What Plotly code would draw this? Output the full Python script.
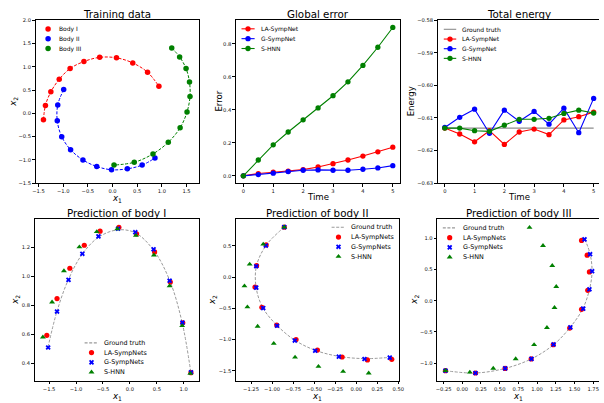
import plotly.graph_objects as go

W, H = 604, 403
FONT = "DejaVu Sans"
RED, BLUE, GREEN = "#ff0000", "#0000ff", "#008000"
GT_GRAY = "#9a9a9a"
GT_LINE = "#8c8c8c"

# ---------------- data ----------------
# Training data (three bodies)
body1_x = [-1.40, -1.36, -1.25, -1.08, -0.86, -0.58, -0.26, 0.08, 0.41, 0.71, 0.94]
body1_y = [-0.14, 0.17, 0.46, 0.73, 0.96, 1.11, 1.20, 1.19, 1.08, 0.88, 0.58]
body2_x = [-0.99, -1.11, -1.12, -1.03, -0.85, -0.60, -0.32, -0.02, 0.30, 0.60, 0.86]
body2_y = [0.51, 0.18, -0.16, -0.50, -0.78, -1.00, -1.14, -1.21, -1.19, -1.11, -0.96]
body3_x = [1.20, 1.36, 1.49, 1.56, 1.57, 1.51, 1.37, 1.13, 0.82, 0.44, 0.03]
body3_y = [1.40, 1.21, 0.96, 0.67, 0.36, 0.03, -0.31, -0.62, -0.87, -1.05, -1.11]

# Global error / total energy vs time
time = [0, 0.5, 1, 1.5, 2, 2.5, 3, 3.5, 4, 4.5, 5]
err_la = [0, 0.014, 0.022, 0.028, 0.038, 0.054, 0.074, 0.096, 0.120, 0.146, 0.174]
err_g = [0, 0.008, 0.016, 0.026, 0.034, 0.036, 0.034, 0.034, 0.040, 0.048, 0.062]
err_s = [0, 0.096, 0.188, 0.266, 0.340, 0.412, 0.486, 0.570, 0.670, 0.780, 0.900]

en_gt = [-0.6131, -0.6131, -0.6131, -0.6131, -0.6131, -0.6131, -0.6131, -0.6131, -0.6131, -0.6131, -0.6131]
en_la = [-0.6131, -0.6149, -0.6173, -0.6139, -0.6181, -0.6143, -0.6134, -0.6151, -0.6106, -0.6096, -0.6082]
en_g = [-0.6129, -0.6098, -0.6073, -0.6147, -0.6076, -0.6110, -0.6080, -0.6119, -0.6070, -0.6145, -0.6040]
en_s = [-0.6131, -0.6131, -0.6139, -0.6141, -0.6122, -0.6104, -0.6104, -0.6101, -0.6086, -0.6076, -0.6085]

# Prediction of body I
gt1_x = [-1.52, -1.36, -1.15, -0.89, -0.58, -0.23, 0.10, 0.44, 0.74, 0.97, 1.13]
gt1_y = [0.51, 0.75, 0.97, 1.15, 1.27, 1.32, 1.30, 1.18, 0.97, 0.68, 0.34]
la1_x = [-1.543, -1.353, -1.115, -0.847, -0.554, -0.204, 0.124, 0.459, 0.751, 0.982, 1.134]
la1_y = [0.592, 0.846, 1.055, 1.214, 1.311, 1.338, 1.293, 1.168, 0.960, 0.678, 0.334]
g1_x = [-1.518, -1.353, -1.140, -0.883, -0.584, -0.220, 0.100, 0.440, 0.738, 0.976, 1.134]
g1_y = [0.508, 0.756, 0.975, 1.155, 1.275, 1.328, 1.304, 1.186, 0.969, 0.680, 0.337]
s1_x = [-1.616, -1.445, -1.225, -0.938, -0.615, -0.234, 0.112, 0.446, 0.738, 0.970, 1.122]
s1_y = [0.579, 0.821, 1.037, 1.202, 1.307, 1.327, 1.281, 1.146, 0.933, 0.658, 0.328]

# Prediction of body II
gt2_x = [-0.855, -1.070, -1.185, -1.190, -1.110, -0.940, -0.730, -0.480, -0.200, 0.100, 0.400]
gt2_y = [0.800, 0.510, 0.180, -0.160, -0.490, -0.775, -1.010, -1.175, -1.270, -1.305, -1.285]
la2_x = [-0.855, -1.070, -1.184, -1.203, -1.121, -0.945, -0.715, -0.461, -0.168, 0.133, 0.422]
la2_y = [0.800, 0.516, 0.184, -0.158, -0.484, -0.768, -1.000, -1.168, -1.279, -1.326, -1.316]
g2_x = [-0.855, -1.074, -1.188, -1.188, -1.105, -0.941, -0.730, -0.488, -0.207, 0.098, 0.398]
g2_y = [0.800, 0.505, 0.174, -0.168, -0.495, -0.779, -1.016, -1.179, -1.274, -1.311, -1.289]
s2_x = [-0.855, -1.105, -1.266, -1.328, -1.293, -1.172, -0.980, -0.727, -0.449, -0.156, 0.148]
s2_y = [0.800, 0.526, 0.205, -0.142, -0.479, -0.789, -1.063, -1.284, -1.432, -1.511, -1.537]

# Prediction of body III
gt3_x = [-0.225, 0.176, 0.573, 0.923, 1.220, 1.440, 1.610, 1.700, 1.735, 1.710, 1.640]
gt3_y = [-1.121, -1.158, -1.084, -0.932, -0.705, -0.430, -0.130, 0.180, 0.470, 0.745, 0.985]
la3_x = [-0.225, 0.176, 0.573, 0.921, 1.216, 1.436, 1.595, 1.678, 1.700, 1.670, 1.595]
la3_y = [-1.121, -1.158, -1.084, -0.932, -0.705, -0.437, -0.137, 0.168, 0.463, 0.732, 0.968]
g3_x = [-0.225, 0.176, 0.573, 0.925, 1.220, 1.445, 1.617, 1.700, 1.736, 1.709, 1.634]
g3_y = [-1.121, -1.158, -1.084, -0.932, -0.700, -0.426, -0.126, 0.184, 0.474, 0.747, 0.984]
s3_x = [-0.225, 0.101, 0.414, 0.714, 0.960, 1.132, 1.233, 1.256, 1.203, 1.079, 0.899]
s3_y = [-1.121, -1.147, -1.084, -0.932, -0.705, -0.432, -0.111, 0.226, 0.563, 0.884, 1.174]

# tick values
ticks_tl_x = [-1.5, -1.0, -0.5, 0.0, 0.5, 1.0, 1.5]
ticks_tl_y = [-1.5, -1.0, -0.5, 0.0, 0.5, 1.0, 1.5, 2.0]
ticks_time = [0, 1, 2, 3, 4, 5]
ticks_err = [0.0, 0.2, 0.4, 0.6, 0.8]
ticks_en = [-0.63, -0.62, -0.61, -0.60, -0.59, -0.58]
ticks_b1_x = [-1.5, -1.0, -0.5, 0.0, 0.5, 1.0]
ticks_b1_y = [0.4, 0.6, 0.8, 1.0, 1.2]
ticks_b2_x = [-1.25, -1.0, -0.75, -0.5, -0.25, 0.0, 0.25, 0.5]
ticks_b2_y = [-1.5, -1.0, -0.5, 0.0, 0.5]
ticks_b3_x = [-0.25, 0.0, 0.25, 0.5, 0.75, 1.0, 1.25, 1.5, 1.75]
ticks_b3_y = [-1.0, -0.5, 0.0, 0.5, 1.0]

# ---------------- layout helpers ----------------
fig = go.Figure()


def dx(a, b):
    return [a / W, b / W]


def dy(top, bottom):
    return [1 - bottom / H, 1 - top / H]


TICKFONT = dict(family=FONT, size=5.2, color="#111")
specs = [
    # xdomain px, ydomain px, xrange, yrange, xticks, yticks, xfmt, yfmt, right spine
    ((33, 198.3), (17.3, 183), (-1.56, 1.746), (-1.5, 2.0), ticks_tl_x, ticks_tl_y, ".1f", ".1f", True),
    ((236, 402.6), (17.3, 183), (-0.25, 5.25), (-0.045, 0.945), ticks_time, ticks_err, "d", ".1f", True),
    ((440.5, 604), (17.3, 183), (-0.24, 5.18), (-0.63, -0.58), ticks_time, ticks_en, "d", ".2f", False),
    ((32, 199), (219.3, 383.5), (-1.77, 1.29), (0.278, 1.395), ticks_b1_x, ticks_b1_y, ".1f", ".1f", True),
    ((236, 401.5), (219.3, 383.5), (-1.43, 0.51), (-1.66, 0.93), ticks_b2_x, ticks_b2_y, ".2f", ".1f", True),
    ((440, 604), (219.3, 383.5), (-0.336, 1.828), (-1.283, 1.311), ticks_b3_x, ticks_b3_y, ".2f", ".1f", False),
]

common = dict(showline=True, linecolor="black", linewidth=1, ticks="outside", ticklen=2.5,
              tickwidth=0.8, tickcolor="black", showgrid=False, zeroline=False,
              tickfont=TICKFONT, fixedrange=True)
lay = {}
for i, (xd, yd, xr, yr, xt, yt, xf, yf, rs) in enumerate(specs, start=1):
    s = "" if i == 1 else str(i)
    lay["xaxis" + s] = dict(domain=dx(*xd), range=list(xr), anchor="y" + s, tickvals=xt,
                            tickformat=xf, mirror=True, **common)
    lay["yaxis" + s] = dict(domain=dy(*yd), range=list(yr), anchor="x" + s, tickvals=yt,
                            tickformat=yf, mirror=rs, **common)
# overlay pixel axis for legend keys and labels
lay["xaxis7"] = dict(domain=[0, 1], range=[0, W], anchor="y7", visible=False, fixedrange=True)
lay["yaxis7"] = dict(domain=[0, 1], range=[H, 0], anchor="x7", visible=False, fixedrange=True)
fig.update_layout(**lay)


def sc(x, y, ax, **kw):
    s = "" if ax == 1 else str(ax)
    fig.add_trace(go.Scatter(x=x, y=y, xaxis="x" + s, yaxis="y" + s, showlegend=False,
                             hoverinfo="skip", cliponaxis=False, **kw))


# ---------------- panel 1: training data ----------------
for bx, by, c in [(body1_x, body1_y, RED), (body2_x, body2_y, BLUE), (body3_x, body3_y, GREEN)]:
    sc(bx, by, 1, mode="lines", line=dict(color=c, width=1, dash="3px,1.6px", shape="spline"))
    sc(bx, by, 1, mode="markers", marker=dict(color=c, size=5.5))

# ---------------- panel 2: global error ----------------
for ys, c in [(err_la, RED), (err_g, BLUE), (err_s, GREEN)]:
    sc(time, ys, 2, mode="lines+markers", line=dict(color=c, width=1.1), marker=dict(color=c, size=5.3))

# ---------------- panel 3: total energy ----------------
sc(time, en_gt, 3, mode="lines", line=dict(color=GT_LINE, width=1.1))
for ys, c in [(en_la, RED), (en_g, BLUE), (en_s, GREEN)]:
    sc(time, ys, 3, mode="lines+markers", line=dict(color=c, width=1.1), marker=dict(color=c, size=5.3))

# ---------------- panels 4-6: predictions ----------------
preds = [
    (4, gt1_x, gt1_y, la1_x, la1_y, g1_x, g1_y, s1_x, s1_y),
    (5, gt2_x, gt2_y, la2_x, la2_y, g2_x, g2_y, s2_x, s2_y),
    (6, gt3_x, gt3_y, la3_x, la3_y, g3_x, g3_y, s3_x, s3_y),
]
for ax, gx, gy, lx, ly, bx, by, sx, sy in preds:
    sc(gx, gy, ax, mode="lines", line=dict(color=GT_GRAY, width=1, dash="3px,1.6px", shape="spline"))
    sc(lx, ly, ax, mode="markers", marker=dict(color=RED, size=5.2, symbol="circle"))
    sc(bx, by, ax, mode="markers", marker=dict(color=BLUE, size=4.6, symbol="x"))
    sc(sx, sy, ax, mode="markers", marker=dict(color=GREEN, size=5.2, symbol="triangle-up"))

# ---------------- legends (drawn manually for compact spacing) ----------------
ann = []


def key_line(x0, x1, yy, color, dash=None):
    fig.add_trace(go.Scatter(x=[x0, x1], y=[yy, yy], xaxis="x7", yaxis="y7", mode="lines",
                             line=dict(color=color, width=1.1, dash=dash), showlegend=False,
                             hoverinfo="skip", cliponaxis=False))


def key_marker(xx, yy, color, symbol, size):
    fig.add_trace(go.Scatter(x=[xx], y=[yy], xaxis="x7", yaxis="y7", mode="markers",
                             marker=dict(color=color, size=size, symbol=symbol), showlegend=False,
                             hoverinfo="skip", cliponaxis=False))


def key_text(xx, yy, text, size):
    ann.append(dict(x=xx, y=yy, xref="x7", yref="y7", text=text, showarrow=False,
                    xanchor="left", yanchor="middle", borderpad=0,
                    font=dict(family=FONT, size=size, color="black")))


# panel 1 legend
for i, (lab, c) in enumerate([("Body I", RED), ("Body II", BLUE), ("Body III", GREEN)]):
    yy = 26.3 + i * 10
    key_marker(45.7, yy, c, "circle", 5.5)
    key_text(55.5, yy, lab, 6.0)

# panel 2 legend
for i, (lab, c) in enumerate([("LA-SympNet", RED), ("G-SympNet", BLUE), ("S-HNN", GREEN)]):
    yy = 26.2 + i * 10
    key_line(241.7, 255, yy, c)
    key_marker(248.3, yy, c, "circle", 5.3)
    key_text(260.5, yy, lab, 6.0)

# panel 3 legend
key_line(446.7, 459.3, 26.7, GT_LINE)
key_text(464.5, 26.7, "Ground truth", 6.0)
for i, (lab, c) in enumerate([("LA-SympNet", RED), ("G-SympNet", BLUE), ("S-HNN", GREEN)]):
    yy = 36.6 + i * 9.8
    key_line(446.7, 459.3, yy, c)
    key_marker(453, yy, c, "circle", 5.3)
    key_text(464.5, yy, lab, 6.0)

# panels 4-6 legends
for x0, y0 in [(82.7, 345), (333, 227.7), (445.7, 228.3)]:
    x1 = x0 + 14
    xm = (x0 + x1) / 2
    xt = x1 + 5
    key_line(x0, x1, y0, GT_GRAY, "3px,1.6px")
    key_text(xt, y0, "Ground truth", 6.4)
    rows = [("LA-SympNets", RED, "circle", 5.2), ("G-SympNets", BLUE, "x", 4.6),
            ("S-HNN", GREEN, "triangle-up", 5.2)]
    for i, (lab, c, sym, sz) in enumerate(rows):
        yy = y0 + (i + 1) * 9.9
        key_marker(xm, yy, c, sym, sz)
        key_text(xt, yy, lab, 6.4)

# ---------------- titles and axis labels ----------------
X1 = "<i>x</i><sub>1</sub>"
X2 = "<i>x</i><sub>2</sub>"
titles = [("Training data", 115.6, 11.2), ("Global error", 319.3, 11.2), ("Total energy", 523, 11.2),
          ("Prediction of body I", 115.5, 213), ("Prediction of body II", 318.7, 213),
          ("Prediction of body III", 522, 213)]
for txt, xx, yy in titles:
    ann.append(dict(x=xx, y=yy, xref="x7", yref="y7", text=txt, showarrow=False,
                    xanchor="center", yanchor="middle",
                    font=dict(family=FONT, size=10.3, color="black")))

xlabels = [(X1, 115.6, 198), ("Time", 319.3, 197), ("Time", 523, 197),
           (X1, 115.5, 399.5), (X1, 318.7, 399.5), (X1, 522, 399.5)]
for txt, xx, yy in xlabels:
    ann.append(dict(x=xx, y=yy, xref="x7", yref="y7", text=txt, showarrow=False,
                    xanchor="center", yanchor="middle",
                    font=dict(family=FONT, size=8.6, color="black")))

ylabels = [(X2, 10.5, 100), ("Error", 218, 100), ("Energy", 413.3, 100),
           (X2, 13, 301.4), (X2, 213, 301.4), (X2, 417.3, 301.4)]
for txt, xx, yy in ylabels:
    ann.append(dict(x=xx, y=yy, xref="x7", yref="y7", text=txt, showarrow=False, textangle=-90,
                    xanchor="center", yanchor="middle",
                    font=dict(family=FONT, size=8.6, color="black")))

fig.update_layout(
    width=W, height=H, margin=dict(l=0, r=0, t=0, b=0),
    paper_bgcolor="white", plot_bgcolor="rgba(0,0,0,0)",
    font=dict(family=FONT, color="black"),
    showlegend=False, annotations=ann,
)

fig.write_html("out.html", config={"displayModeBar": False})
